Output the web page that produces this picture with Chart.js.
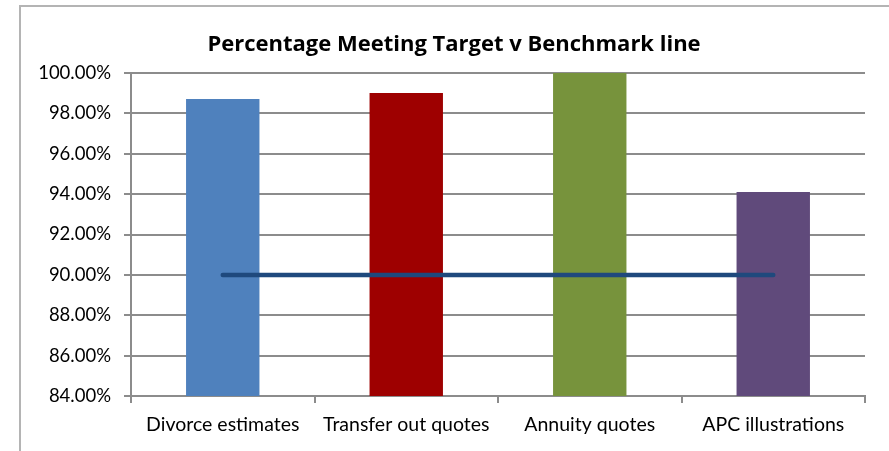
<!DOCTYPE html>
<html>
<head>
<meta charset="utf-8">
<script src="https://cdn.jsdelivr.net/npm/chart.js@4"></script>
<style>
  body { margin: 0; background: #fff; overflow: hidden; }
  #wrap { position: relative; width: 889px; height: 451px; }
  #frame { position: absolute; left: 19px; top: 5px; width: 900px; height: 470px; border: 2px solid #b4b4b4; box-sizing: border-box; }
  canvas { position: absolute; left: 0; top: 0; }
</style>
</head>
<body>
<div id="wrap">
  <div id="frame"></div>
  <canvas id="chart" width="889" height="451"></canvas>
</div>
<script>
// chart data
const categories = ['Divorce estimates', 'Transfer out quotes', 'Annuity quotes', 'APC illustrations'];
const percentMeeting = [98.71, 99.01, 100.0, 94.11];
const benchmark = [90, 90, 90, 90];
const barColours = ['#4F81BD', '#9E0000', '#77933C', '#604A7B'];
const yTicks = { min: 84, max: 100, step: 2 };
const chartTitle = 'Percentage Meeting Target v Benchmark line';

const font = "Lato, Calibri, 'Open Sans', sans-serif";
const gridGray = '#8c8c8c';

// title is centred over the whole frame, not the canvas, so draw it by hand
const titlePlugin = {
    id: 'frameTitle',
    afterDraw: function(chart) {
        const c = chart.ctx;
        c.save();
        c.font = "bold 22px 'Open Sans', sans-serif";
        c.fillStyle = '#000';
        c.textAlign = 'center';
        c.textBaseline = 'middle';
        c.fillText(chartTitle, 454, 45);
        c.restore();
    }
};

var ctx = document.getElementById('chart').getContext('2d');
var chart = new Chart(ctx, {
    type: 'bar',
    data: {
        labels: categories,
        datasets: [{
            type: 'line',
            label: 'Benchmark',
            data: benchmark,
            borderColor: '#1F497D',
            borderWidth: 4.5,
            borderCapStyle: 'round',
            pointRadius: 0,
            fill: false,
            order: 0
        }, {
            label: 'Percentage Meeting Target',
            data: percentMeeting,
            backgroundColor: barColours,
            barPercentage: 0.4,
            categoryPercentage: 1,
            order: 1
        }]
    },
    plugins: [titlePlugin],
    options: {
        responsive: false,
        animation: false,
        layout: { padding: { left: 0, right: 24, top: 73, bottom: 0 } },
        plugins: {
            legend: { display: false },
            tooltip: { enabled: false },
            title: { display: false }
        },
        scales: {
            x: {
                grid: {
                    offset: true,
                    drawOnChartArea: false,
                    drawTicks: true,
                    tickLength: 7,
                    color: gridGray,
                    lineWidth: 2
                },
                border: { display: true, color: gridGray, width: 2 },
                ticks: { color: '#000', font: { family: font, size: 19.5 }, padding: 10, maxRotation: 0 },
                afterFit: function(scale) { scale.height = 55; }
            },
            y: {
                min: yTicks.min,
                max: yTicks.max,
                grid: { color: gridGray, lineWidth: 2, tickLength: 7 },
                border: { display: true, color: gridGray, width: 2 },
                ticks: {
                    stepSize: yTicks.step,
                    color: '#000',
                    padding: 13,
                    font: { family: font, size: 18.5 },
                    callback: function(v) { return v.toFixed(2) + '%'; }
                },
                afterFit: function(scale) { scale.width = 131; }
            }
        }
    }
});
</script>
</body>
</html>
